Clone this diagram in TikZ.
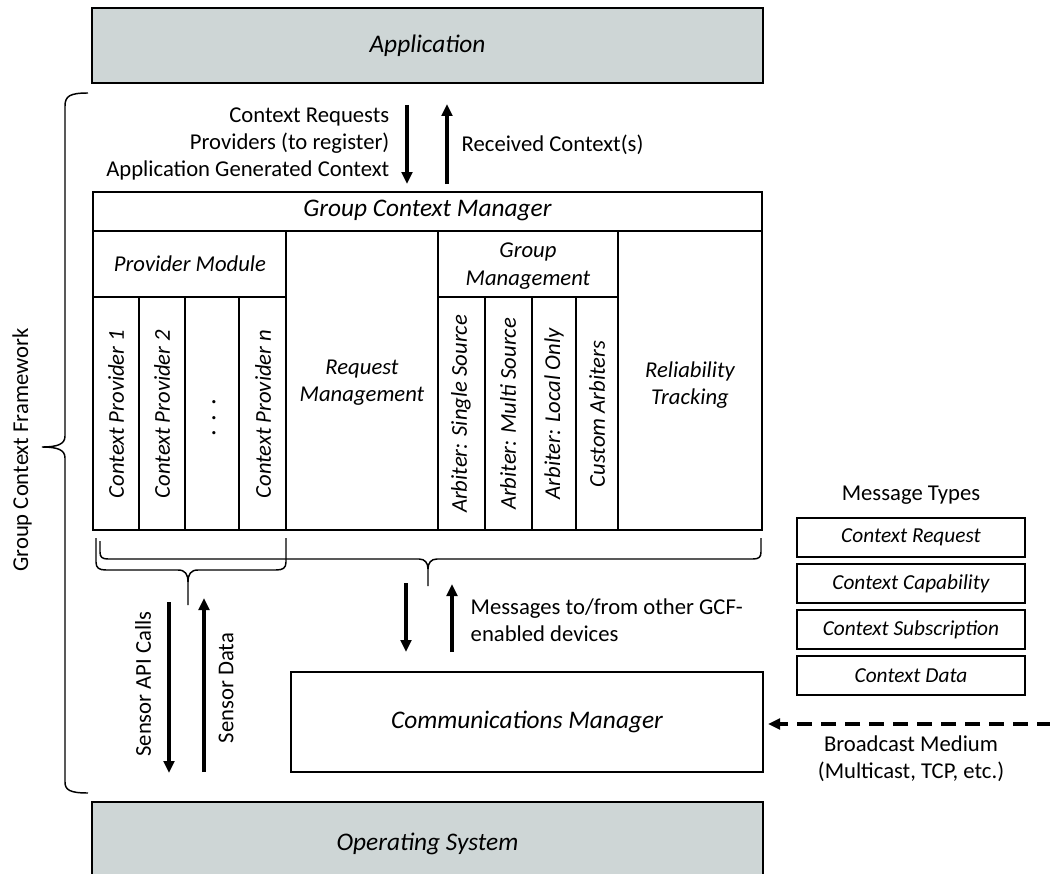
\documentclass[tikz,border=0pt]{standalone}
\usepackage{fontspec}
\setmainfont{Carlito}
\usetikzlibrary{arrows.meta}
\definecolor{layergray}{RGB}{206,214,214}

\tikzset{
	box/.style={line width=1.7pt},
	layer/.style={box, fill=layergray},
	bigit/.style={font=\fontsize{19}{23}\selectfont\itshape},
	cellit/.style={font=\fontsize{17}{20.5}\selectfont\itshape, align=center},
	vcell/.style={cellit, rotate=90},
	plain/.style={font=\fontsize{17}{20.5}\selectfont},
	msgit/.style={font=\fontsize{16}{20}\selectfont\itshape},
	flow/.style={line width=2.6pt, -{Triangle[length=9pt,width=8pt]}},
	bracket/.style={line width=1.1pt},
}

\begin{document}
\begin{tikzpicture}[x=0.75pt, y=-0.75pt]
		%%%%% START %%%%%
		\useasboundingbox (0,0) rectangle (1050,874);
		
		% layers
		\draw[layer] (92,8) rectangle (763,83);
		\node[bigit] (app) at (427.5,46) {Application};
		\draw[layer] (92,802) rectangle (763,895);
		\node[bigit] (os) at (427.5,844) {Operating System};
		
		% framework brace
		\draw[bracket] (88,93) .. controls (70,93) and (65,96) .. (65,106) -- (65,436)
			.. controls (65,444) and (58,447) .. (42,447)
			.. controls (58,447) and (65,450) .. (65,458) -- (65,782)
			.. controls (65,790) and (70,793) .. (88,793);
		\node[plain, rotate=90] (gcf) at (22,450) {Group Context Framework};
		
		% app <-> gcm
		\coordinate (reqtop) at (407,105);
		\coordinate (reqbot) at (407,184);
		\coordinate (rcvbot) at (447,184);
		\coordinate (rcvtop) at (447,104);
		\draw[flow] (reqtop) -- (reqbot);
		\draw[flow] (rcvbot) -- (rcvtop);
		\node[plain, align=right, anchor=east] (reqlbl) at (394,144) {Context Requests\\Providers (to register)\\Application Generated Context};
		\node[plain, anchor=west] (rcvlbl) at (457,145) {Received Context(s)};
		
		% group context manager
		\draw[box] (93,192) rectangle (762,530);
		\draw[box] (93,231) -- (762,231);
		\node[bigit] (gcm) at (427.5,210) {Group Context Manager};
		\foreach \x in {286,438,618}
			\draw[box] (\x,231) -- (\x,530);
		\draw[box] (93,297) -- (286,297);
		\draw[box] (438,297) -- (618,297);
		\foreach \x in {139,185,239,485,532,576}
			\draw[box] (\x,297) -- (\x,530);
		
		\node[cellit] (provmod) at (190,264) {Provider Module};
		\node[cellit] (reqmgmt) at (362,383) {Request\\Management};
		\node[cellit] (grpmgmt) at (528,266) {Group\\Management};
		\node[cellit] (reltrack) at (690,385) {Reliability\\Tracking};
		
		\node[vcell] (cp1) at (116,414) {Context Provider 1};
		\node[vcell] (cp2) at (162,414) {Context Provider 2};
		\node[vcell, font=\fontsize{20}{20}\selectfont] (cpdots) at (214,418) {.\,\,.\,\,.};
		\node[vcell] (cpn) at (263,414) {Context Provider \textit{n}};
		\node[vcell] (arbss) at (461,414) {Arbiter: Single Source};
		\node[vcell] (arbms) at (508,414) {Arbiter: Multi Source};
		\node[vcell] (arblo) at (554,414) {Arbiter: Local Only};
		\node[vcell] (arbcu) at (597,414) {Custom Arbiters};
		
		% braces under the manager
		\draw[bracket] (96,538) -- (96,562) .. controls (96,568) and (99,570) .. (106,570) -- (178,570)
			.. controls (185,570) and (188,574) .. (188,582) -- (188,605);
		\draw[bracket] (286,538) -- (286,562) .. controls (286,568) and (283,570) .. (276,570) -- (198,570)
			.. controls (191,570) and (188,574) .. (188,582);
		\draw[bracket] (100,541) -- (100,552) .. controls (100,557) and (102,559) .. (108,559) -- (419,559)
			.. controls (425,559) and (428,563) .. (428,569) -- (428,586);
		\draw[bracket] (761,538) -- (761,552) .. controls (761,557) and (759,559) .. (753,559) -- (437,559)
			.. controls (431,559) and (428,563) .. (428,569);
		
		% sensor calls
		\coordinate (apitop) at (169,602);
		\coordinate (apibot) at (169,773);
		\coordinate (datbot) at (204,772);
		\coordinate (dattop) at (204,598);
		\draw[flow] (apitop) -- (apibot);
		\draw[flow] (datbot) -- (dattop);
		\node[plain, rotate=90] (apilbl) at (143,684) {Sensor API Calls};
		\node[plain, rotate=90] (datlbl) at (226,688) {Sensor Data};
		
		% messages
		\coordinate (msgtop) at (406,583);
		\coordinate (msgbot) at (406,652);
		\coordinate (othbot) at (452,652);
		\coordinate (othtop) at (452,584);
		\draw[flow] (msgtop) -- (msgbot);
		\draw[flow] (othbot) -- (othtop);
		\node[plain, align=left, anchor=west] (msglbl) at (466,620) {Messages to/from other GCF-\\enabled devices};
		
		% communications manager
		\draw[box] (291,672) rectangle (763,772);
		\node[bigit] (comm) at (527,722) {Communications Manager};
		
		% message types
		\node[plain] (mtypes) at (911,495) {Message Types};
		\foreach \t [count=\i] in {Context Request, Context Capability, Context Subscription, Context Data} {
			\draw[box, line width=1.4pt] (797,{518+46*(\i-1)}) rectangle (1025,{557+46*(\i-1)});
			\node[msgit] (mt\i) at (911,{537.5+46*(\i-1)}) {\t};
		}
		
		% broadcast medium
		\coordinate (bcfar) at (1052,724);
		\coordinate (bcnear) at (768,724);
		\draw[flow, dash pattern=on 11pt off 7pt] (bcfar) -- (bcnear);
		\node[plain, align=center] (bclbl) at (911,759) {Broadcast Medium\\(Multicast, TCP, etc.)};
		
		%%%%% END %%%%%
\end{tikzpicture}
\end{document}
